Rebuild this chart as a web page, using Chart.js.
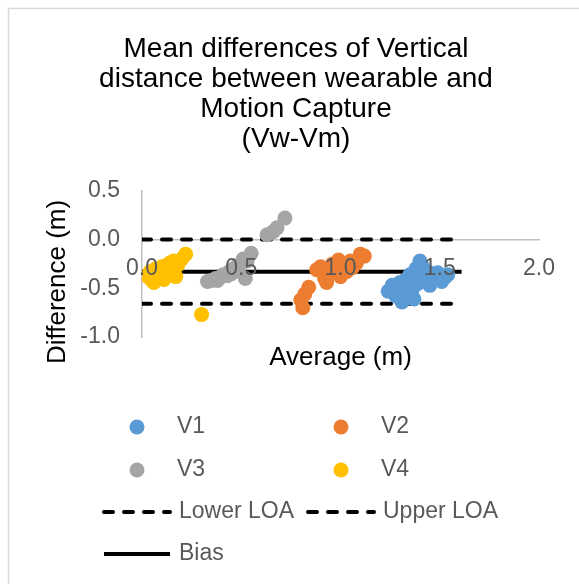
<!DOCTYPE html>
<html>
<head>
<meta charset="utf-8">
<script src="https://cdn.jsdelivr.net/npm/chart.js@4.4.0/dist/chart.umd.min.js"></script>
<style>
  body { margin: 0; background: #fff; }
  canvas { display: block; }
</style>
</head>
<body>
<canvas id="chartBA" width="579" height="584"></canvas>
<script>
// values (average, difference) in metres
const v1X = [1.24, 1.26, 1.28, 1.29, 1.30, 1.31, 1.32, 1.33, 1.34, 1.35, 1.36, 1.37, 1.38, 1.39, 1.40, 1.41, 1.42, 1.44, 1.45, 1.47, 1.49, 1.51, 1.53, 1.54];
const v1Y = [-0.53, -0.47, -0.58, -0.50, -0.44, -0.64, -0.55, -0.41, -0.48, -0.36, -0.52, -0.61, -0.30, -0.45, -0.22, -0.27, -0.40, -0.33, -0.47, -0.37, -0.34, -0.43, -0.38, -0.36];

const v2X = [0.81, 0.80, 0.82, 0.84, 0.88, 0.90, 0.92, 0.93, 0.95, 0.96, 0.98, 0.99, 1.00, 1.02, 1.03, 1.05, 1.06, 1.08, 1.10, 1.12];
const v2Y = [-0.70, -0.62, -0.56, -0.49, -0.31, -0.28, -0.40, -0.44, -0.35, -0.25, -0.30, -0.21, -0.38, -0.26, -0.33, -0.22, -0.29, -0.24, -0.15, -0.17];

const v3X = [0.33, 0.35, 0.37, 0.38, 0.40, 0.41, 0.43, 0.44, 0.45, 0.46, 0.47, 0.48, 0.49, 0.50, 0.51, 0.52, 0.53, 0.55, 0.63, 0.66, 0.68, 0.72];
const v3Y = [-0.43, -0.42, -0.40, -0.42, -0.38, -0.36, -0.37, -0.33, -0.35, -0.30, -0.32, -0.27, -0.29, -0.24, -0.20, -0.40, -0.22, -0.14, 0.05, 0.08, 0.12, 0.22];

const v4X = [0.03, 0.04, 0.05, 0.06, 0.07, 0.08, 0.09, 0.10, 0.11, 0.12, 0.13, 0.14, 0.15, 0.16, 0.17, 0.18, 0.20, 0.22, 0.30];
const v4Y = [-0.38, -0.33, -0.42, -0.44, -0.30, -0.40, -0.35, -0.28, -0.41, -0.27, -0.36, -0.24, -0.31, -0.22, -0.38, -0.26, -0.20, -0.15, -0.77];

const bias = -0.33;
const lowerLOA = -0.66;
const upperLOA = 0.0;
const lineSpan = [0, 1.61];

const xMin = 0, xMax = 2, xStep = 0.5;
const yMin = -1, yMax = 0.5, yStep = 0.5;

const font = '"Liberation Sans", Arial, sans-serif';
Chart.defaults.font.family = font;

function pts(xs, ys) {
  return xs.map((x, i) => ({ x: x, y: ys[i] }));
}
function hline(v) {
  return lineSpan.map(x => ({ x: x, y: v }));
}

function pointSet(label, xs, ys, color) {
  return {
    label: label,
    data: pts(xs, ys),
    backgroundColor: color,
    borderColor: color,
    borderWidth: 0,
    pointRadius: 7.5,
    pointHoverRadius: 7.5,
  };
}
function lineSet(label, v, dashed) {
  return {
    label: label,
    data: hline(v),
    showLine: true,
    borderColor: '#000',
    backgroundColor: '#000',
    borderWidth: 4,
    borderDash: dashed ? [9, 11] : [],
    borderCapStyle: dashed ? 'round' : 'butt',
    pointRadius: 0,
    fill: false,
  };
}

// grid-style legend like the original
const legendGrid = {
  id: 'legendGrid',
  beforeDraw(chart) {
    const c = chart.ctx;
    c.save();
    c.fillStyle = '#fff';
    c.fillRect(0, 0, chart.width, chart.height);
    c.strokeStyle = '#d9d9d9';
    c.lineWidth = 1.5;
    c.strokeRect(8.5, 8.5, 700, 700);
    c.restore();
  },
  afterDraw(chart) {
    const c = chart.ctx;
    const spots = [[137, 427], [341, 427], [137, 470], [341, 470], [102, 512], [306, 512], [102, 554]];
    c.save();
    c.font = '23px ' + font;
    c.textBaseline = 'middle';
    c.textAlign = 'left';
    chart.data.datasets.forEach((ds, i) => {
      const [x, y] = spots[i];
      if (ds.showLine) {
        c.strokeStyle = ds.borderColor;
        c.lineWidth = 4;
        c.lineCap = ds.borderCapStyle;
        c.setLineDash(ds.borderDash);
        c.beginPath();
        c.moveTo(x + 2, y);
        c.lineTo(x + 68, y);
        c.stroke();
        c.setLineDash([]);
        c.fillStyle = '#595959';
        c.fillText(ds.label, x + 77, y);
      } else {
        c.fillStyle = ds.backgroundColor;
        c.beginPath();
        c.arc(x, y, 7.5, 0, Math.PI * 2);
        c.fill();
        c.fillStyle = '#595959';
        c.fillText(ds.label, x + 40, y);
      }
    });
    c.restore();
  }
};

const data = {
  datasets: [
    pointSet('V1', v1X, v1Y, '#5b9bd5'),
    pointSet('V2', v2X, v2Y, '#ed7d31'),
    pointSet('V3', v3X, v3Y, '#a5a5a5'),
    pointSet('V4', v4X, v4Y, '#ffc000'),
    lineSet('Lower LOA', lowerLOA, true),
    lineSet('Upper LOA', upperLOA, true),
    lineSet('Bias', bias, false),
  ]
};

const config = {
  type: 'scatter',
  data,
  plugins: [legendGrid],
  options: {
    responsive: false,
    animation: false,
    layout: { padding: { left: 53, right: 40, top: 0, bottom: 247 } },
    plugins: {
      legend: { display: false },
      tooltip: { enabled: false },
      title: {
        display: true,
        text: ['Mean differences of Vertical', 'distance between wearable and', 'Motion Capture', '(Vw-Vm)'],
        color: '#000',
        font: { size: 28, weight: 'normal', lineHeight: 1.07 },
        padding: { top: 34, bottom: 37 },
      },
    },
    scales: {
      x: {
        type: 'linear',
        position: { y: 0 },
        min: xMin,
        max: xMax,
        grid: { display: false, drawTicks: false },
        border: { display: true, color: '#bfbfbf', width: 1.5 },
        ticks: {
          stepSize: xStep,
          padding: 15,
          color: '#595959',
          font: { size: 23 },
          maxRotation: 0,
          z: 1,
          callback: v => v.toFixed(1),
        },
        title: {
          display: true,
          text: 'Average (m)',
          color: '#000',
          font: { size: 26 },
          padding: 0,
        },
        afterFit(scale) { scale.height = 134; },
      },
      y: {
        type: 'linear',
        position: 'left',
        min: yMin,
        max: yMax,
        grid: { display: false, drawTicks: false },
        border: { display: true, color: '#bfbfbf', width: 1.5 },
        ticks: {
          stepSize: yStep,
          padding: 22,
          color: '#595959',
          font: { size: 23 },
          callback: v => v.toFixed(1),
        },
        title: {
          display: true,
          text: 'Difference (m)     ',
          color: '#000',
          font: { size: 26 },
          padding: { top: -11, bottom: 0 },
        },
        afterFit(scale) { scale.width = 89; },
      },
    },
  },
};

const chartBA = new Chart(document.getElementById('chartBA'), config);
</script>
</body>
</html>
